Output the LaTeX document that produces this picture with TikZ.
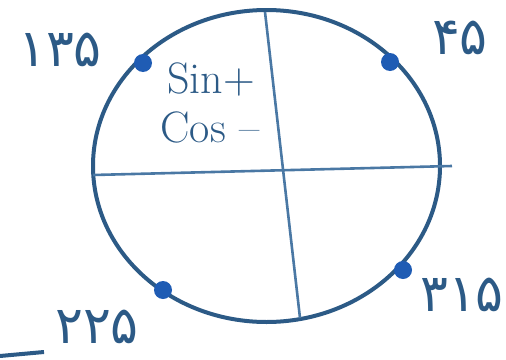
\documentclass[tikz,border=0pt]{standalone}
\usepackage{fontspec}
\newfontfamily\arabicfont[Script=Arabic]{DejaVu Sans}
\definecolor{inkblue}{HTML}{2C5A86}
\definecolor{inkline}{HTML}{4A78A4}
\definecolor{dotblue}{HTML}{1F5CB4}

\begin{document}
\begin{tikzpicture}[x=1pt,y=-1pt,
  rim/.style={draw=inkblue,line width=4pt},
  axis/.style={draw=inkline,line width=2.6pt},
  pt/.style={circle,fill=dotblue,inner sep=0pt,minimum size=18pt},
  deg/.style={text=inkblue,font=\arabicfont\fontsize{52}{56}\selectfont,inner sep=0pt},
  sgn/.style={text=inkblue,font=\fontsize{44}{48}\selectfont,inner sep=0pt}]
  \useasboundingbox (0,0) rectangle (506,359);
  \coordinate (o) at (266.5,166);
  \draw[rim] (o) ellipse [x radius=173.5, y radius=156];
  % axes
  \coordinate (top) at (265,12);
  \coordinate (bot) at (300,318);
  \coordinate (lft) at (93,175);
  \coordinate (rgt) at (452,166);
  \draw[axis] (lft) -- (rgt);
  \draw[axis] (top) -- (bot);
  % points on the circle
  \node[pt] (d135) at (143,63) {};
  \node[pt] (d45) at (390,62) {};
  \node[pt] (d315) at (403,270) {};
  \node[pt] (d225) at (163,290) {};
  \node[deg] (l135) at (60,50) {۱۳۵};
  \node[deg] (l45) at (460,38) {۴۵};
  \node[deg] (l315) at (462,295) {۳۱۵};
  \node[deg] (l225) at (97,327) {۲۲۵};
  \node[sgn] (sin) at (211,80) {Sin+};
  \node[sgn] (cos) at (210,127) {Cos –};
  \coordinate (s1) at (0,356);
  \coordinate (s2) at (44,352);
  \draw[rim] (s1) -- (s2);
\end{tikzpicture}
\end{document}
